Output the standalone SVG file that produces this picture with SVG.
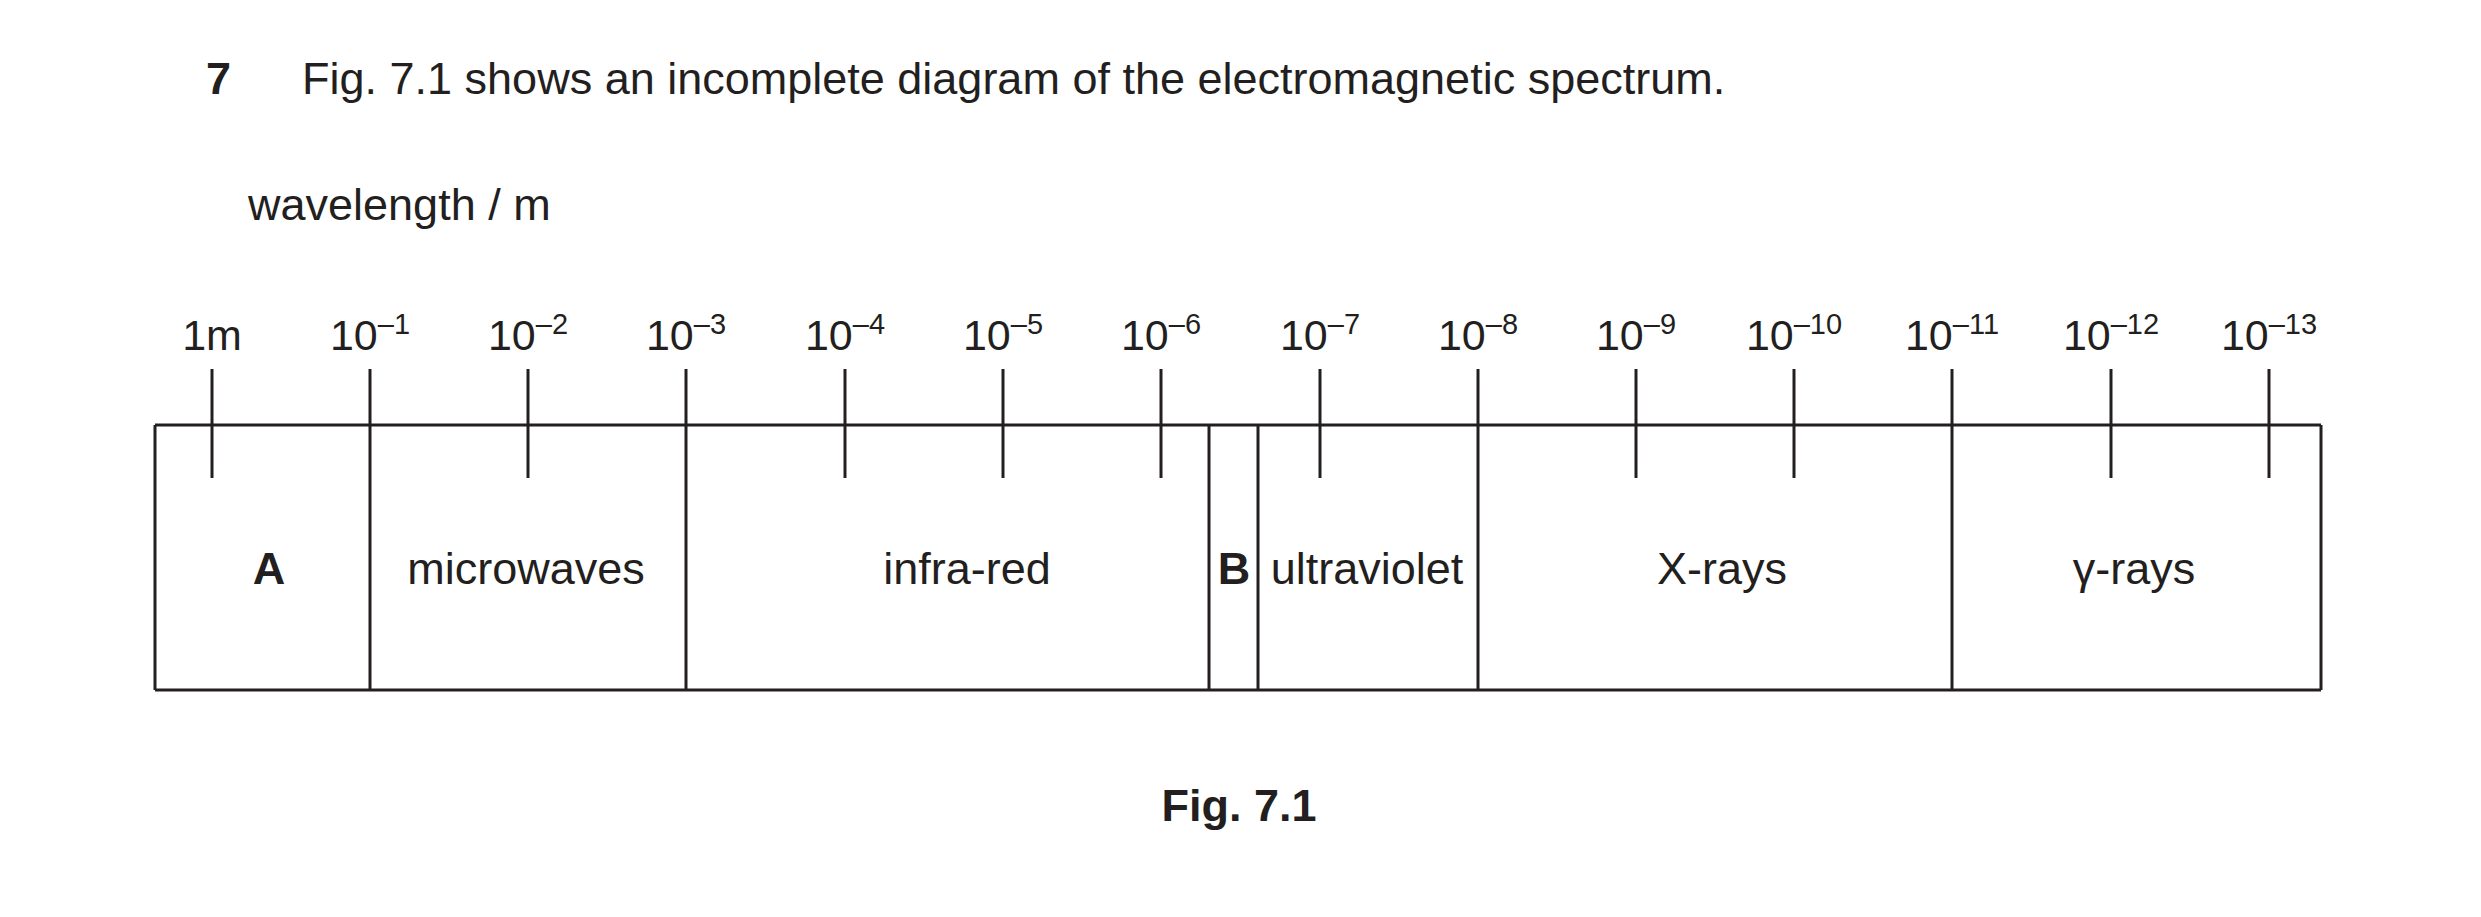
<svg xmlns="http://www.w3.org/2000/svg" width="2481" height="917" viewBox="0 0 2481 917">
<style>
text{font-family:"Liberation Sans",Arial,sans-serif;fill:#231f20}
.t{font-size:45px}
.l{font-size:43px;text-anchor:middle}
.m{font-size:45px;text-anchor:middle}
.s{font-size:29px}
.b{font-weight:bold}
line{stroke:#231f20;stroke-width:3}
</style>
<rect width="2481" height="917" fill="#fff"/>
<text class="t b" x="206" y="94">7</text>
<text class="t" x="302" y="94">Fig. 7.1 shows an incomplete diagram of the electromagnetic spectrum.</text>
<text class="t" x="248" y="220">wavelength / m</text>
<g id="connectors">
<line x1="155" y1="425" x2="2321" y2="425"/>
<line x1="155" y1="690" x2="2321" y2="690"/>
<line x1="155" y1="425" x2="155" y2="690"/>
<line x1="2321" y1="425" x2="2321" y2="690"/>
<line x1="370" y1="369" x2="370" y2="690"/>
<line x1="686" y1="369" x2="686" y2="690"/>
<line x1="1209" y1="425" x2="1209" y2="690"/>
<line x1="1258" y1="425" x2="1258" y2="690"/>
<line x1="1478" y1="369" x2="1478" y2="690"/>
<line x1="1952" y1="369" x2="1952" y2="690"/>
<line x1="212" y1="369" x2="212" y2="478"/>
<line x1="528" y1="369" x2="528" y2="478"/>
<line x1="845" y1="369" x2="845" y2="478"/>
<line x1="1003" y1="369" x2="1003" y2="478"/>
<line x1="1161" y1="369" x2="1161" y2="478"/>
<line x1="1320" y1="369" x2="1320" y2="478"/>
<line x1="1636" y1="369" x2="1636" y2="478"/>
<line x1="1794" y1="369" x2="1794" y2="478"/>
<line x1="2111" y1="369" x2="2111" y2="478"/>
<line x1="2269" y1="369" x2="2269" y2="478"/>
</g>
<g id="ticklabels">
<text class="l" x="212" y="350">1m</text>
<text class="l" x="370" y="350">10<tspan class="s" dy="-16">–1</tspan></text>
<text class="l" x="528" y="350">10<tspan class="s" dy="-16">–2</tspan></text>
<text class="l" x="686" y="350">10<tspan class="s" dy="-16">–3</tspan></text>
<text class="l" x="845" y="350">10<tspan class="s" dy="-16">–4</tspan></text>
<text class="l" x="1003" y="350">10<tspan class="s" dy="-16">–5</tspan></text>
<text class="l" x="1161" y="350">10<tspan class="s" dy="-16">–6</tspan></text>
<text class="l" x="1320" y="350">10<tspan class="s" dy="-16">–7</tspan></text>
<text class="l" x="1478" y="350">10<tspan class="s" dy="-16">–8</tspan></text>
<text class="l" x="1636" y="350">10<tspan class="s" dy="-16">–9</tspan></text>
<text class="l" x="1794" y="350">10<tspan class="s" dy="-16">–10</tspan></text>
<text class="l" x="1952" y="350">10<tspan class="s" dy="-16">–11</tspan></text>
<text class="l" x="2111" y="350">10<tspan class="s" dy="-16">–12</tspan></text>
<text class="l" x="2269" y="350">10<tspan class="s" dy="-16">–13</tspan></text>
</g>
<g id="nodeA"><text class="m b" x="269" y="584">A</text></g>
<g id="microwaves"><text class="m" x="526" y="584">microwaves</text></g>
<g id="infrared"><text class="m" x="967" y="584">infra-red</text></g>
<g id="nodeB"><text class="m b" x="1234" y="584">B</text></g>
<g id="ultraviolet"><text class="m" x="1367" y="584">ultraviolet</text></g>
<g id="xrays"><text class="m" x="1722" y="584">X-rays</text></g>
<g id="gammarays"><text class="m" x="2134" y="584">γ-rays</text></g>
<text class="t b" x="1239" y="821" text-anchor="middle">Fig. 7.1</text>
</svg>
